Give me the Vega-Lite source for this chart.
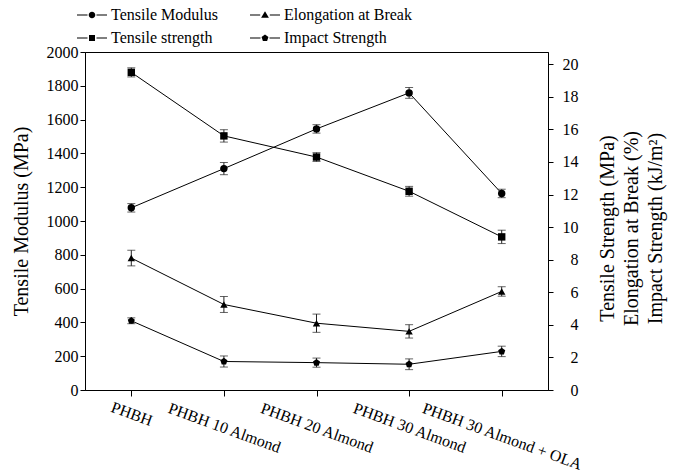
{
  "$schema": "https://vega.github.io/schema/vega-lite/v6.json",
  "autosize": "none",
  "width": 463,
  "height": 338,
  "padding": {"left": 85, "top": 52, "right": 130, "bottom": 84},
  "background": "white",
  "config": {
    "view": {"stroke": "black", "strokeWidth": 1},
    "font": "Liberation Serif",
    "axis": {"grid": false, "domainColor": "black", "tickColor": "black", "labelColor": "black", "titleColor": "black", "labelFont": "Liberation Serif", "titleFont": "Liberation Serif", "labelFontSize": 16, "titleFontSize": 20, "titleFontWeight": "normal"},
    "legend": {"labelFont": "Liberation Serif", "labelFontSize": 16, "labelColor": "black"}
  },
  "data": {"values": [
    {"sample": "PHBH", "series": "Tensile Modulus", "value": 1078, "lo": 1053, "hi": 1103},
    {"sample": "PHBH 10 Almond", "series": "Tensile Modulus", "value": 1310, "lo": 1274, "hi": 1346},
    {"sample": "PHBH 20 Almond", "series": "Tensile Modulus", "value": 1545, "lo": 1520, "hi": 1570},
    {"sample": "PHBH 30 Almond", "series": "Tensile Modulus", "value": 1758, "lo": 1726, "hi": 1790},
    {"sample": "PHBH 30 Almond + OLA", "series": "Tensile Modulus", "value": 1163, "lo": 1138, "hi": 1188},
    {"sample": "PHBH", "series": "Tensile strength", "value": 19.5, "lo": 19.22, "hi": 19.78},
    {"sample": "PHBH 10 Almond", "series": "Tensile strength", "value": 15.6, "lo": 15.22, "hi": 15.98},
    {"sample": "PHBH 20 Almond", "series": "Tensile strength", "value": 14.3, "lo": 14.03, "hi": 14.57},
    {"sample": "PHBH 30 Almond", "series": "Tensile strength", "value": 12.2, "lo": 11.9, "hi": 12.5},
    {"sample": "PHBH 30 Almond + OLA", "series": "Tensile strength", "value": 9.4, "lo": 8.99, "hi": 9.81},
    {"sample": "PHBH", "series": "Elongation at Break", "value": 8.1, "lo": 7.62, "hi": 8.58},
    {"sample": "PHBH 10 Almond", "series": "Elongation at Break", "value": 5.25, "lo": 4.76, "hi": 5.74},
    {"sample": "PHBH 20 Almond", "series": "Elongation at Break", "value": 4.1, "lo": 3.54, "hi": 4.66},
    {"sample": "PHBH 30 Almond", "series": "Elongation at Break", "value": 3.6, "lo": 3.19, "hi": 4.01},
    {"sample": "PHBH 30 Almond + OLA", "series": "Elongation at Break", "value": 6.05, "lo": 5.76, "hi": 6.34},
    {"sample": "PHBH", "series": "Impact Strength", "value": 4.25, "lo": 4.07, "hi": 4.43},
    {"sample": "PHBH 10 Almond", "series": "Impact Strength", "value": 1.75, "lo": 1.41, "hi": 2.09},
    {"sample": "PHBH 20 Almond", "series": "Impact Strength", "value": 1.68, "lo": 1.4, "hi": 1.96},
    {"sample": "PHBH 30 Almond", "series": "Impact Strength", "value": 1.58, "lo": 1.25, "hi": 1.91},
    {"sample": "PHBH 30 Almond + OLA", "series": "Impact Strength", "value": 2.37, "lo": 2.05, "hi": 2.69}
  ]},
  "encoding": {
    "x": {
      "field": "sample", "type": "nominal",
      "scale": {"type": "point", "padding": 0.5, "domain": ["PHBH", "PHBH 10 Almond", "PHBH 20 Almond", "PHBH 30 Almond", "PHBH 30 Almond + OLA"]},
      "axis": {"title": null, "labelAngle": 20, "labelAlign": "center", "labelBaseline": "middle", "tickSize": 6, "labelPadding": {"expr": "12 + 1.4*length(datum.label)"}}
    }
  },
  "layer": [
    {
      "transform": [{"filter": "datum.series === 'Tensile Modulus'"}],
      "encoding": {
        "y": {"field": "value", "type": "quantitative", "scale": {"domain": [0, 2000], "nice": false}, "axis": {"title": "Tensile Modulus (MPa)", "titleFont": "Liberation Serif", "format": "d", "values": [0, 200, 400, 600, 800, 1000, 1200, 1400, 1600, 1800, 2000], "tickSize": 5, "labelPadding": 2, "titlePadding": 15}}
      },
      "layer": [
        {"mark": {"type": "line", "color": "black", "strokeWidth": 1}},
        {"mark": {"type": "rule", "color": "#222", "strokeWidth": 1}, "encoding": {"y": {"field": "lo", "type": "quantitative"}, "y2": {"field": "hi"}}},
        {"mark": {"type": "tick", "color": "#222", "size": 8, "thickness": 1, "orient": "horizontal"}, "encoding": {"y": {"field": "lo", "type": "quantitative"}}},
        {"mark": {"type": "tick", "color": "#222", "size": 8, "thickness": 1, "orient": "horizontal"}, "encoding": {"y": {"field": "hi", "type": "quantitative"}}},
        {"mark": {"type": "point", "shape": "circle", "filled": true, "color": "black", "size": 55, "opacity": 1}}
      ]
    },
    {
      "transform": [{"filter": "datum.series !== 'Tensile Modulus'"}],
      "encoding": {
        "y": {"field": "value", "type": "quantitative", "scale": {"domain": [0, 20.75], "nice": false}, "axis": {"orient": "right", "title": ["Tensile Strength (MPa)", "Elongation at Break (%)", "Impact Strength (kJ/m²)"], "titleFont": "Liberation Serif", "titleAngle": 270, "titleLineHeight": 24, "titleX": 59, "titleY": 176, "titleAlign": "center", "titleBaseline": "middle", "values": [0, 2, 4, 6, 8, 10, 12, 14, 16, 18, 20], "tickSize": 5, "labelAlign": "right", "labelPadding": 25}}
      },
      "layer": [
        {"mark": {"type": "line", "color": "black", "strokeWidth": 1}, "encoding": {"detail": {"field": "series"}}},
        {"mark": {"type": "rule", "color": "#222", "strokeWidth": 1}, "encoding": {"y": {"field": "lo", "type": "quantitative"}, "y2": {"field": "hi"}}},
        {"mark": {"type": "tick", "color": "#222", "size": 8, "thickness": 1, "orient": "horizontal"}, "encoding": {"y": {"field": "lo", "type": "quantitative"}}},
        {"mark": {"type": "tick", "color": "#222", "size": 8, "thickness": 1, "orient": "horizontal"}, "encoding": {"y": {"field": "hi", "type": "quantitative"}}},
        {"mark": {"type": "point", "filled": true, "color": "black", "size": 55, "opacity": 1},
         "encoding": {"shape": {"field": "series", "type": "nominal", "legend": null,
           "scale": {"domain": ["Tensile strength", "Elongation at Break", "Impact Strength"], "range": ["square", "triangle-up", "M0,-1L0.951,-0.309L0.588,0.809L-0.588,0.809L-0.951,-0.309Z"]}}}}
      ]
    },
    {
      "transform": [{"filter": "false"}],
      "mark": {"type": "point", "filled": true, "color": "black", "size": 900, "opacity": 1},
      "encoding": {
        "shape": {"field": "series", "type": "nominal",
          "scale": {"domain": ["Tensile Modulus", "Tensile strength", "Elongation at Break", "Impact Strength"],
            "range": [
              "M-1,-0.035L-0.3,-0.035L-0.3,0.035L-1,0.035ZM0.3,-0.035L1,-0.035L1,0.035L0.3,0.035ZM0.22,0A0.22,0.22,0,1,1,-0.22,0A0.22,0.22,0,1,1,0.22,0Z",
              "M-1,-0.035L-0.3,-0.035L-0.3,0.035L-1,0.035ZM0.3,-0.035L1,-0.035L1,0.035L0.3,0.035ZM-0.2,-0.2L0.2,-0.2L0.2,0.2L-0.2,0.2Z",
              "M-1,-0.035L-0.32,-0.035L-0.32,0.035L-1,0.035ZM0.32,-0.035L1,-0.035L1,0.035L0.32,0.035ZM0,-0.25L0.26,0.19L-0.26,0.19Z",
              "M-1,-0.035L-0.3,-0.035L-0.3,0.035L-1,0.035ZM0.3,-0.035L1,-0.035L1,0.035L0.3,0.035ZM0,-0.24L0.23,-0.07L0.14,0.2L-0.14,0.2L-0.23,-0.07Z"
            ]},
          "legend": {"title": null, "orient": "none", "legendX": -8, "legendY": -52, "columns": 2, "symbolSize": 900, "rowPadding": -5, "columnPadding": 32, "labelOffset": 4, "padding": 0, "symbolFillColor": "black", "symbolStrokeWidth": 0, "symbolOpacity": 1}
        }
      }
    }
  ],
  "resolve": {"scale": {"y": "independent", "shape": "independent"}}
}
